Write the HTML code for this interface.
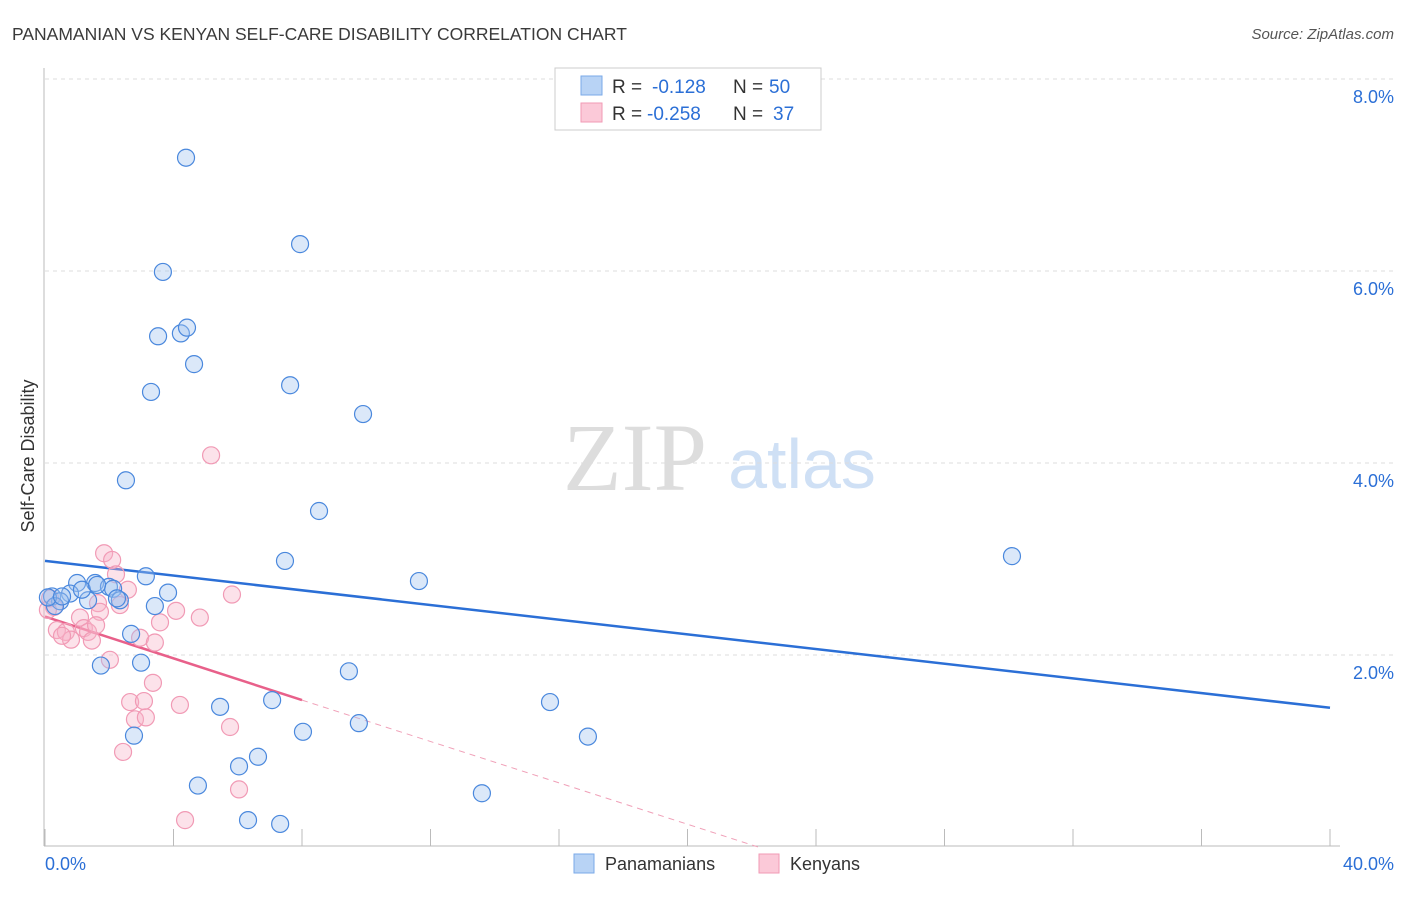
<!DOCTYPE html>
<html><head><meta charset="utf-8"><style>
body{margin:0;background:#fff;font-family:"Liberation Sans",sans-serif}
</style></head><body>
<svg width="1406" height="892" xmlns="http://www.w3.org/2000/svg">
<text x="12" y="40" font-size="17.5" fill="#3a3a3a">PANAMANIAN VS KENYAN SELF-CARE DISABILITY CORRELATION CHART</text>
<text x="1394" y="39" font-size="15" fill="#555" font-style="italic" text-anchor="end">Source: ZipAtlas.com</text>
<g>
<text x="635" y="490" font-size="96" font-family="Liberation Serif,serif" fill="#ddd" text-anchor="middle">ZIP</text>
<text x="802" y="488" font-size="70" fill="#cfe0f5" text-anchor="middle">atlas</text>
</g>
<g id="grid"></g>
<line x1="44" y1="68" x2="44" y2="846" stroke="#bbb"/>
<line x1="44" y1="846" x2="1340" y2="846" stroke="#bbb"/>
<g id="xt"></g>
<text x="34" y="456" font-size="18" fill="#333" text-anchor="middle" transform="rotate(-90 34 456)">Self-Care Disability</text>
<g id="lines"></g>
<g id="pts"></g>
<g>
<rect x="555" y="68" width="266" height="62" fill="#fff" stroke="#ccc"/>
<rect x="581" y="76" width="21" height="19" fill="#b8d3f5" stroke="#7aaae8"/>
<rect x="581" y="103" width="21" height="19" fill="#fbc9d8" stroke="#f19ab5"/>
<text x="612" y="93" font-size="19" fill="#333">R =</text>
<text x="652" y="93" font-size="19" fill="#2b6fd6">-0.128</text>
<text x="733" y="93" font-size="19" fill="#333">N =</text>
<text x="769" y="93" font-size="19" fill="#2b6fd6">50</text>
<text x="612" y="120" font-size="19" fill="#333">R =</text>
<text x="647" y="120" font-size="19" fill="#2b6fd6">-0.258</text>
<text x="733" y="120" font-size="19" fill="#333">N =</text>
<text x="773" y="120" font-size="19" fill="#2b6fd6">37</text>
</g>
<g>
<rect x="574" y="854" width="20" height="19" fill="#b8d3f5" stroke="#7aaae8"/>
<text x="605" y="870" font-size="18" fill="#333">Panamanians</text>
<rect x="759" y="854" width="20" height="19" fill="#fbc9d8" stroke="#f19ab5"/>
<text x="790" y="870" font-size="18" fill="#333">Kenyans</text>
</g>
<text x="45" y="870" font-size="18" fill="#2b6fd6">0.0%</text>
<text x="1394" y="870" font-size="18" fill="#2b6fd6" text-anchor="end">40.0%</text>
</svg>
<script>
const yTicks=[2,4,6,8];
const yTickLabels=["2.0%","4.0%","6.0%","8.0%"];
const xTicks=[0,4,8,12,16,20,24,28,32,36,40];
const bluePx=[[186,158],[300,244],[163,272],[158,336],[181,333],[187,328],[194,364],[151,392],[290,385],[363,414],[126,480],[319,511],[1012,556],[285,561],[419,581],[146,576],[168,593],[77,583],[95,583],[109,587],[113,589],[70,594],[52,596],[60,601],[88,600],[120,600],[55,606],[155,606],[131,634],[101,666],[141,663],[349,671],[550,702],[272,700],[220,707],[359,723],[303,732],[588,737],[134,736],[258,757],[239,766],[198,786],[482,793],[248,820],[280,824],[48,597],[62,596],[82,590],[117,598],[97,585]];
const pinkPx=[[211,455],[104,553],[112,560],[116,574],[128,590],[98,603],[120,605],[100,612],[232,595],[176,611],[54,607],[160,622],[200,618],[80,618],[84,628],[57,630],[66,632],[88,632],[71,640],[92,641],[62,636],[140,638],[155,643],[110,660],[153,683],[130,702],[144,701],[180,705],[135,719],[146,717],[230,727],[123,752],[239,789],[185,820],[50,598],[48,610],[96,625]];
const blueX=bluePx.map(p=>+((p[0]-45)/32.125).toFixed(2));
const blueY=bluePx.map(p=>+((847-p[1])/96).toFixed(2));
const pinkX=pinkPx.map(p=>+((p[0]-45)/32.125).toFixed(2));
const pinkY=pinkPx.map(p=>+((847-p[1])/96).toFixed(2));
const blueTrend=[2.98,1.45];
const pinkTrend=[2.40,1.53,0];
const pinkTrendX=[0,8,22.2];
const sx=v=>45+v*32.125, sy=v=>847-v*96;
const NS="http://www.w3.org/2000/svg";
function mk(t,a,parent){const e=document.createElementNS(NS,t);for(const k in a)e.setAttribute(k,a[k]);document.getElementById(parent).appendChild(e);return e;}
yTicks.forEach((t,i)=>{
 const l=mk('line',{x1:45,x2:1394,y1:sy(t),y2:sy(t),stroke:'#ddd','stroke-dasharray':'4,4'},'grid');
 
 
 const tx=mk('text',{x:1394,y:sy(t)+24,'font-size':18,fill:'#2b6fd6','text-anchor':'end'},'grid');
 tx.textContent=yTickLabels[i];
 
 
});
xTicks.forEach(t=>{
 const l=mk('line',{x1:sx(t),x2:sx(t),y1:829,y2:846,stroke:'#bbb'},'xt');
 
 
});
const bl=mk('line',{x1:sx(0),y1:sy(blueTrend[0]),x2:sx(40),y2:sy(blueTrend[1]),stroke:'#2b6fd6','stroke-width':2.5},'lines');


const pl=mk('line',{x1:sx(pinkTrendX[0]),y1:sy(pinkTrend[0]),x2:sx(pinkTrendX[1]),y2:sy(pinkTrend[1]),stroke:'#e8608a','stroke-width':2.5},'lines');


const pd=mk('line',{x1:sx(pinkTrendX[1]),y1:sy(pinkTrend[1]),x2:sx(pinkTrendX[2]),y2:sy(pinkTrend[2]),stroke:'#f0a0b8','stroke-width':1,'stroke-dasharray':'6,5'},'lines');


pinkX.forEach((x,i)=>{
 const c=mk('circle',{cx:sx(x),cy:sy(pinkY[i]),r:8.5,fill:'rgba(248,180,200,0.38)',stroke:'#f19ab5','stroke-width':1.2},'pts');
 
 
});
blueX.forEach((x,i)=>{
 const c=mk('circle',{cx:sx(x),cy:sy(blueY[i]),r:8.5,fill:'rgba(160,195,240,0.38)',stroke:'#4a88dd','stroke-width':1.2},'pts');
 
 
});
</script>
</body></html>
